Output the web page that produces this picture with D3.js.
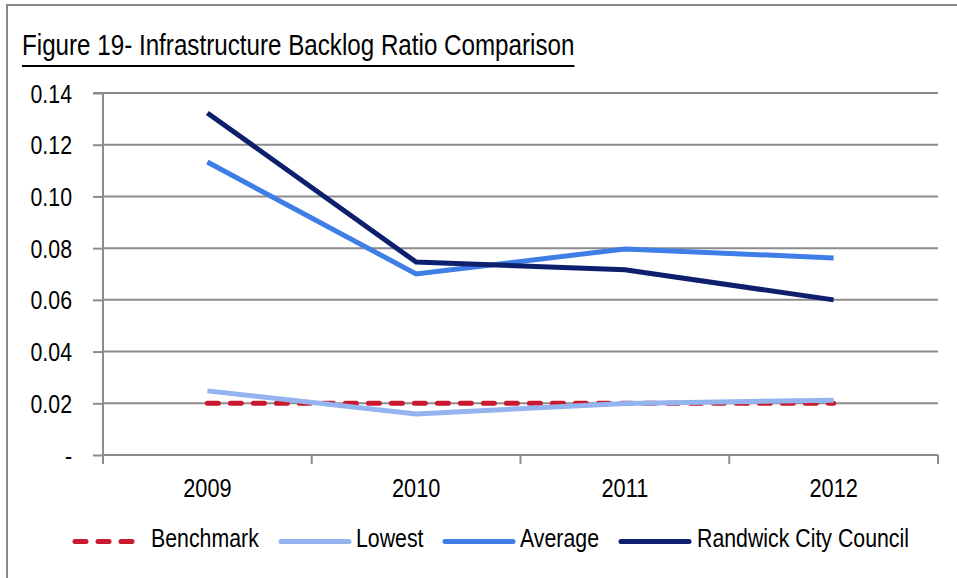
<!DOCTYPE html>
<html>
<head>
<meta charset="utf-8">
<script src="https://cdn.jsdelivr.net/npm/d3@7"></script>
<style>
  html, body { margin: 0; padding: 0; background: #fff; }
  svg text { font-family: "Liberation Sans", Arial, sans-serif; fill: #000; }
</style>
</head>
<body>
<svg id="chart" width="957" height="578"></svg>
<script>
// Chart data
const years = ["2009", "2010", "2011", "2012"];
const benchmark = [0.020, 0.020, 0.020, 0.020];
const lowest = [0.0248, 0.0159, 0.0199, 0.0212];
const average = [0.1133, 0.0700, 0.0797, 0.0762];
const randwick = [0.1323, 0.0746, 0.0716, 0.0600];
const yTicks = [0, 0.02, 0.04, 0.06, 0.08, 0.10, 0.12, 0.14];
const seriesNames = ["Benchmark", "Lowest", "Average", "Randwick City Council"];
const seriesColors = ["#C8192E", "#94B4F0", "#3E7EE6", "#0E1F6E"];

const series = [benchmark, lowest, average, randwick].map((values, i) => ({
  name: seriesNames[i], color: seriesColors[i], values, dashed: i === 0
}));

const NARROW = 0.82; // horizontal squeeze giving a narrow sans face
const grid = "#8c8c8c";

const svg = d3.select("#chart");

// Narrow text helper: positions a group and squeezes the glyphs inside it
function narrowText(parent, x, y, str, size, anchor) {
  const g = parent.append("g").attr("transform", `translate(${x},${y})`);
  g.append("text")
    .attr("transform", `scale(${NARROW},1)`)
    .attr("font-size", size)
    .attr("text-anchor", anchor || "start")
    .text(str);
  return g;
}

// Outer frame
svg.append("rect")
  .attr("x", 7).attr("y", 5).attr("width", 960).attr("height", 600)
  .attr("fill", "none").attr("stroke", "#8a8a8a").attr("stroke-width", 2);

// Title with underline
const titleG = narrowText(svg, 22, 55, "Figure 19- Infrastructure Backlog Ratio Comparison", 29.5, "start");
const titleW = titleG.select("text").node().getComputedTextLength() * NARROW;
svg.append("line")
  .attr("x1", 22).attr("x2", 22 + titleW)
  .attr("y1", 66).attr("y2", 66)
  .attr("stroke", "#000").attr("stroke-width", 2);

const plot = { left: 103, right: 938, top: 93, bottom: 455 };

const x = d3.scaleBand().domain(years).range([plot.left, plot.right]);
const y = d3.scaleLinear().domain([0, 0.14]).range([plot.bottom, plot.top]);

// Horizontal gridlines
svg.append("g")
  .selectAll("line")
  .data(yTicks.slice(1))
  .join("line")
  .attr("x1", plot.left).attr("x2", plot.right)
  .attr("y1", d => y(d)).attr("y2", d => y(d))
  .attr("stroke", grid).attr("stroke-width", 2);

// Y axis (line and ticks from d3, labels drawn narrow)
const yAxis = svg.append("g")
  .attr("transform", `translate(${plot.left},0)`)
  .call(d3.axisLeft(y).tickValues(yTicks).tickSize(10).tickFormat(""));
yAxis.select(".domain").attr("stroke", grid).attr("stroke-width", 2)
  .attr("d", `M-10,${plot.top}H0V${plot.bottom + 9}`);
yAxis.selectAll(".tick line").attr("stroke", grid).attr("stroke-width", 2);
const yLabels = svg.append("g");
yTicks.forEach(t => {
  narrowText(yLabels, 72, y(t) + 9.5, t === 0 ? "-" : d3.format(".2f")(t), 26, "end");
});

// X axis
const xAxis = svg.append("g")
  .attr("transform", `translate(0,${plot.bottom})`)
  .call(d3.axisBottom(x).tickSize(0).tickFormat(""));
xAxis.select(".domain").attr("stroke", grid).attr("stroke-width", 2)
  .attr("d", `M${plot.left},0H${plot.right}`);
const bounds = years.map(d => x(d)).concat([plot.right]);
svg.append("g")
  .selectAll("line")
  .data(bounds)
  .join("line")
  .attr("x1", d => d).attr("x2", d => d)
  .attr("y1", plot.bottom).attr("y2", plot.bottom + 9)
  .attr("stroke", grid).attr("stroke-width", 2);
const xLabels = svg.append("g");
years.forEach(yr => {
  narrowText(xLabels, x(yr) + x.bandwidth() / 2, 497, yr, 26.5, "middle");
});

// Series lines
const line = d3.line()
  .x((d, i) => x(years[i]) + x.bandwidth() / 2)
  .y(d => y(d));

svg.append("g")
  .selectAll("path")
  .data(series)
  .join("path")
  .attr("d", d => line(d.values))
  .attr("fill", "none")
  .attr("stroke", d => d.color)
  .attr("stroke-width", 5)
  .attr("stroke-linecap", d => d.dashed ? "round" : "butt")
  .attr("stroke-linejoin", "miter")
  .attr("stroke-dasharray", d => d.dashed ? "11,12" : null);

// Legend
const legendItems = [
  { lx: 75, tx: 151 },
  { lx: 281, tx: 356 },
  { lx: 445, tx: 520 },
  { lx: 621, tx: 697 }
];
const legendY = 541.5;
const legend = svg.append("g");
series.forEach((s, i) => {
  const pos = legendItems[i];
  legend.append("line")
    .attr("x1", pos.lx).attr("x2", pos.lx + (s.dashed ? 60 : 68))
    .attr("y1", legendY).attr("y2", legendY)
    .attr("stroke", s.color).attr("stroke-width", 5)
    .attr("stroke-linecap", "round")
    .attr("stroke-dasharray", s.dashed ? "11,12" : null);
  narrowText(legend, pos.tx, 547, s.name, 26, "start");
});
</script>
</body>
</html>
